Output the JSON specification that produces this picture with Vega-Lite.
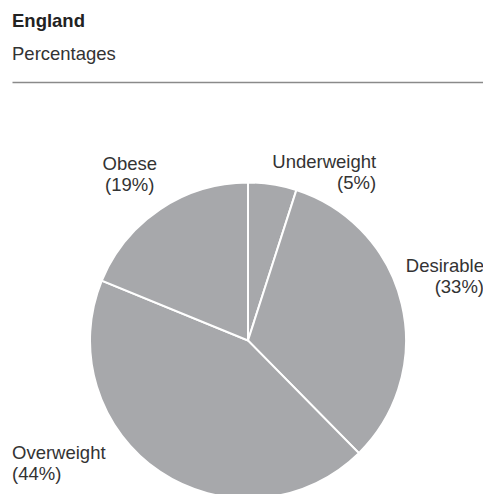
{
  "$schema": "https://vega.github.io/schema/vega-lite/v6.json",
  "width": 472,
  "height": 517,
  "autosize": {"type": "none"},
  "padding": {"left": 12, "top": 82, "right": 0, "bottom": 0},
  "background": "white",
  "title": {
    "text": "England",
    "subtitle": "Percentages",
    "anchor": "start",
    "frame": "group",
    "font": "Liberation Sans",
    "fontSize": 18.5,
    "fontWeight": "bold",
    "color": "#222222",
    "subtitleFont": "Liberation Sans",
    "subtitleFontSize": 18.5,
    "subtitleColor": "#333333",
    "subtitlePadding": 15,
    "offset": 11.5
  },
  "config": {
    "view": {"stroke": null},
    "text": {"font": "Liberation Sans", "fontSize": 18.5, "color": "#333333", "lineBreak": "\n", "lineHeight": 20.5}
  },
  "data": {
    "values": [
      {"rank": 1, "category": "Underweight", "value": 5, "label": "Underweight\n(5%)"},
      {"rank": 2, "category": "Desirable", "value": 33, "label": "Desirable\n(33%)"},
      {"rank": 3, "category": "Overweight", "value": 44, "label": "Overweight\n(44%)"},
      {"rank": 4, "category": "Obese", "value": 19, "label": "Obese\n(19%)"}
    ]
  },
  "encoding": {
    "theta": {"field": "value", "type": "quantitative", "stack": true},
    "order": {"field": "rank", "type": "quantitative", "sort": "ascending"}
  },
  "layer": [
    {
      "mark": {"type": "point", "opacity": 0},
      "encoding": {
        "theta": null,
        "order": null,
        "x": {"field": "value", "type": "quantitative",
          "axis": {"orient": "top", "domain": true, "domainColor": "#8a8a8a", "domainWidth": 1.6, "ticks": false, "labels": false, "grid": false, "title": null}}
      }
    },
    {
      "mark": {"type": "arc", "outerRadius": 158, "fill": "#a7a8ab", "stroke": "white", "strokeWidth": 2}
    },
    {
      "mark": {"type": "text", "radius": 172, "align": "right", "baseline": "alphabetic", "dx": 101.5, "dy": -2.5},
      "encoding": {"text": {"condition": {"test": "datum.category === 'Underweight'", "field": "label"}, "value": ""}}
    },
    {
      "mark": {"type": "text", "radius": 240, "align": "right", "baseline": "alphabetic", "dx": 2.5, "dy": -13},
      "encoding": {"text": {"condition": {"test": "datum.category === 'Desirable'", "field": "label"}, "value": ""}}
    },
    {
      "mark": {"type": "text", "radius": 140, "align": "left", "baseline": "alphabetic", "dx": -158, "dy": 2.3},
      "encoding": {"text": {"condition": {"test": "datum.category === 'Overweight'", "field": "label"}, "value": ""}}
    },
    {
      "mark": {"type": "text", "radius": 205, "align": "center", "baseline": "alphabetic", "dx": -4, "dy": 0},
      "encoding": {"text": {"condition": {"test": "datum.category === 'Obese'", "field": "label"}, "value": ""}}
    }
  ]
}
